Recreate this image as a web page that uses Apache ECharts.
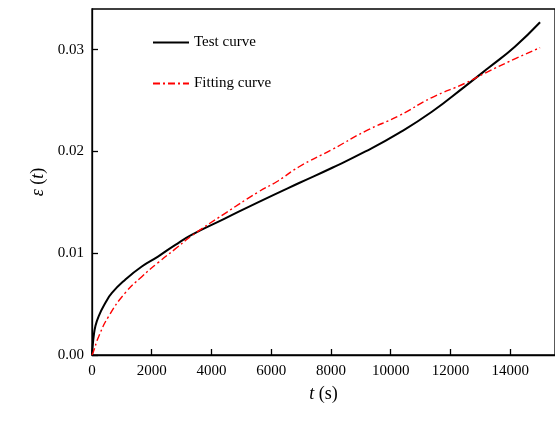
<!DOCTYPE html>
<html>
<head>
<meta charset="utf-8">
<script src="https://cdn.jsdelivr.net/npm/echarts@6/dist/echarts.min.js"></script>
<style>
html,body{margin:0;padding:0;background:#fff;}
#c{width:555px;height:423px;}
</style>
</head>
<body>
<div id="c"></div>
<script>
// Test curve (t in s, strain)
var testT = [0, 8, 20, 55, 111, 222, 444, 667, 1111, 1667, 2222, 2778, 3333, 4444, 5556, 6933, 8044, 9156, 10267, 11378, 12489, 13267, 14156, 15000];
var testE = [0, 0.0004, 0.0008, 0.0018, 0.0028, 0.0038, 0.0051, 0.0061, 0.0074, 0.0087, 0.0097, 0.0108, 0.0118, 0.0134, 0.0150, 0.0169, 0.0184, 0.0200, 0.0218, 0.0239, 0.0264, 0.0282, 0.0303, 0.0327];
// Fitting curve
var fitT = [0, 55, 222, 556, 1111, 1667, 2222, 2778, 3333, 4444, 5556, 6222, 6933, 8044, 9156, 10267, 11378, 12489, 13156, 14156, 15000];
var fitE = [0, 0.0004, 0.0018, 0.0038, 0.0061, 0.0077, 0.0091, 0.0104, 0.0117, 0.0139, 0.0160, 0.0171, 0.0185, 0.0202, 0.0220, 0.0235, 0.0253, 0.0267, 0.0277, 0.0291, 0.0302];
var xTicks = [0, 2000, 4000, 6000, 8000, 10000, 12000, 14000];
var yTicks = ['0.00', '0.01', '0.02', '0.03'];
var seriesNames = ['Test curve', 'Fitting curve'];

function zip(a, b) { return a.map(function (v, i) { return [v, b[i]]; }); }

var FONT = 'Liberation Serif';
var chart = echarts.init(document.getElementById('c'), null, {renderer: 'canvas'});
chart.setOption({
  animation: false,
  backgroundColor: '#fff',
  grid: {left: 92, top: 9, right: -2, bottom: 68, show: true, borderColor: '#000', borderWidth: 1.3, backgroundColor: 'transparent'},
  legend: {
    left: 152, top: 35, padding: 0, orient: 'vertical', itemGap: 26, itemWidth: 36, itemHeight: 14,
    itemStyle: {opacity: 0},
    textStyle: {fontFamily: FONT, fontSize: 15, color: '#000'},
    data: seriesNames
  },
  xAxis: {
    type: 'value', min: 0, max: 15500, interval: 2000,
    name: '{i|t} (s)', nameLocation: 'middle', nameGap: 30,
    nameTextStyle: {fontFamily: FONT, fontSize: 18, color: '#000', rich: {i: {fontFamily: FONT, fontStyle: 'italic', fontSize: 18, color: '#000'}}},
    axisLine: {lineStyle: {color: '#000', width: 1.3}},
    axisTick: {inside: true, length: 6, lineStyle: {color: '#000', width: 1.3}},
    axisLabel: {fontFamily: FONT, fontSize: 15, color: '#000', margin: 9, showMaxLabel: false,
      formatter: function (v) { return xTicks.indexOf(v) >= 0 ? String(v) : ''; }},
    splitLine: {show: false}
  },
  yAxis: {
    type: 'value', min: 0, max: 0.034, interval: 0.01,
    name: '{i|ε} ({i|t})', nameLocation: 'middle', nameGap: 28, nameRotate: 90,
    nameTextStyle: {fontFamily: FONT, fontSize: 18, color: '#000', rich: {i: {fontFamily: FONT, fontStyle: 'italic', fontSize: 18, color: '#000'}}},
    axisLine: {lineStyle: {color: '#000', width: 1.3}},
    axisTick: {inside: true, length: 6, lineStyle: {color: '#000', width: 1.3}},
    axisLabel: {fontFamily: FONT, fontSize: 15, color: '#000', margin: 8, showMaxLabel: false,
      formatter: function (v) { var s = v.toFixed(2); return yTicks.indexOf(s) >= 0 && Math.abs(v * 100 - Math.round(v * 100)) < 1e-6 ? s : ''; }},
    splitLine: {show: false}
  },
  series: [
    {name: seriesNames[0], type: 'line', smooth: 0.5, symbol: 'none', data: zip(testT, testE),
      lineStyle: {color: '#000', width: 2}, itemStyle: {color: '#000'}},
    {name: seriesNames[1], type: 'line', smooth: 0.5, symbol: 'none', data: zip(fitT, fitE),
      lineStyle: {color: '#ff0000', width: 1.4, type: [7, 3, 2, 3]}, itemStyle: {color: '#ff0000'}}
  ]
});
</script>
</body>
</html>
